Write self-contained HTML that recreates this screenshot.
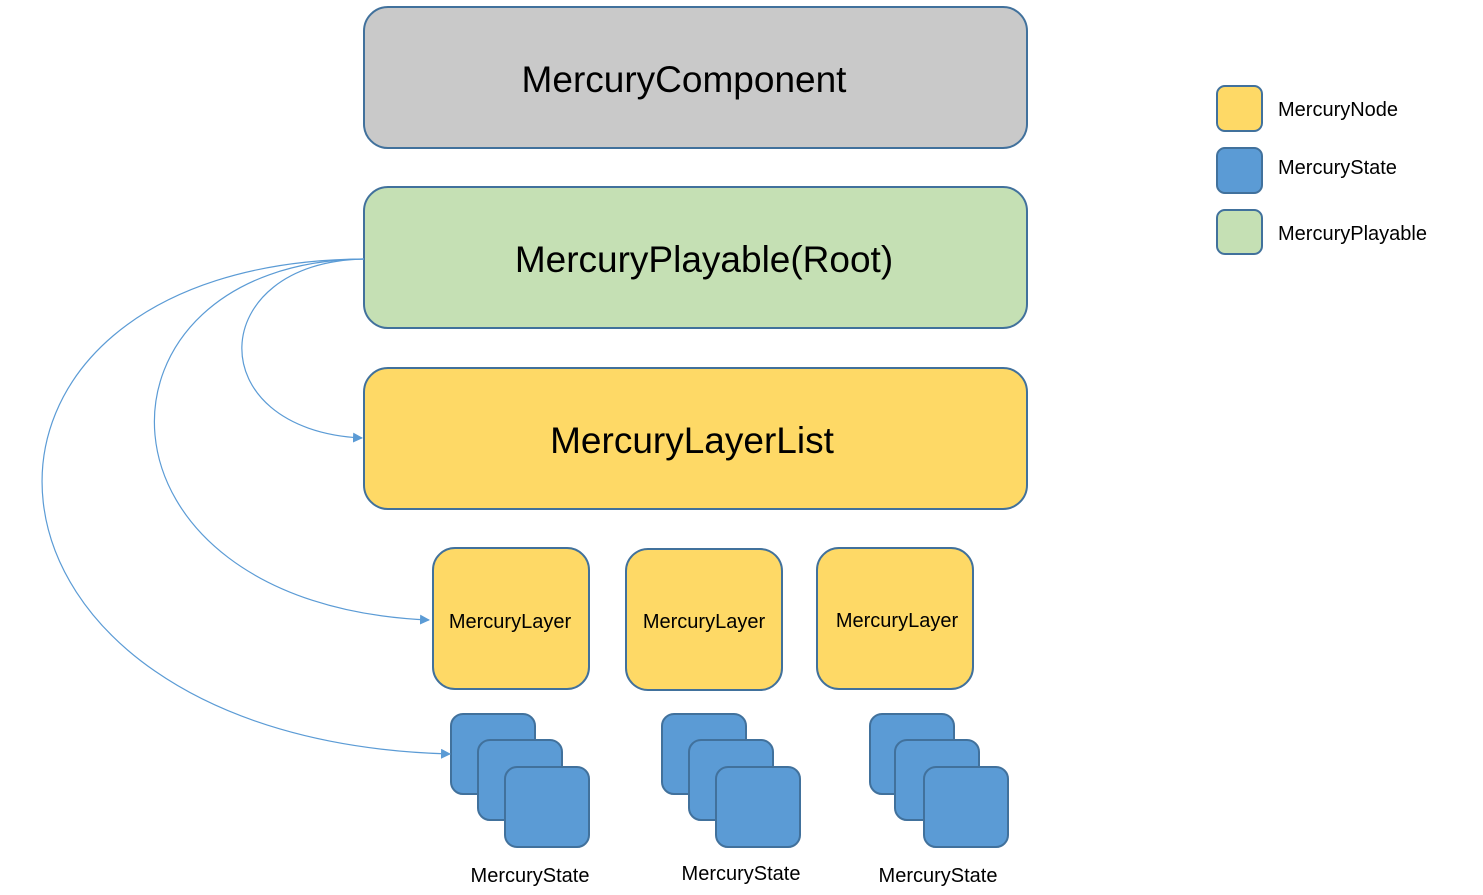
<!DOCTYPE html>
<html><head><meta charset="utf-8"><style>
html,body{margin:0;padding:0;background:#fff;}
svg{display:block;}
text{font-family:"Liberation Sans","Noto Sans CJK SC",sans-serif;fill:#000;}
</style></head><body>
<svg width="1483" height="895" viewBox="0 0 1483 895">
<defs>
<marker id="a" markerWidth="10" markerHeight="10" refX="9" refY="5" orient="auto" markerUnits="userSpaceOnUse">
<path d="M0,0 L10,5 L0,10 z" fill="#5b9bd5"/>
</marker>
</defs>
<g stroke="#41719c" stroke-width="2">
<rect x="364" y="7" width="663" height="141" rx="24" fill="#c9c9c9"/>
<rect x="364" y="187" width="663" height="141" rx="24" fill="#c5e0b4"/>
<rect x="364" y="368" width="663" height="141" rx="24" fill="#fed966"/>
<rect x="433" y="548" width="156" height="141" rx="22" fill="#fed966"/>
<rect x="626" y="549" width="156" height="141" rx="22" fill="#fed966"/>
<rect x="817" y="548" width="156" height="141" rx="22" fill="#fed966"/>
<g fill="#5b9bd5">
<rect x="451" y="714" width="84" height="80" rx="12"/>
<rect x="478" y="740" width="84" height="80" rx="12"/>
<rect x="505" y="767" width="84" height="80" rx="12"/>
<rect x="662" y="714" width="84" height="80" rx="12"/>
<rect x="689" y="740" width="84" height="80" rx="12"/>
<rect x="716" y="767" width="84" height="80" rx="12"/>
<rect x="870" y="714" width="84" height="80" rx="12"/>
<rect x="895" y="740" width="84" height="80" rx="12"/>
<rect x="924" y="767" width="84" height="80" rx="12"/>
</g>
<rect x="1217" y="86" width="45" height="45" rx="8" fill="#fed966"/>
<rect x="1217" y="148" width="45" height="45" rx="8" fill="#5b9bd5"/>
<rect x="1217" y="210" width="45" height="44" rx="8" fill="#c5e0b4"/>
</g>
<g fill="none" stroke="#5b9bd5" stroke-width="1.2">
<path d="M364,259 C205,262 198,430 362,438" marker-end="url(#a)"/>
<path d="M364,259 C75,262 74,605 429,620" marker-end="url(#a)"/>
<path d="M364,259 C-90,262 -66,740 450,754" marker-end="url(#a)"/>
</g>
<g text-anchor="middle">
<text x="684" y="92" font-size="37">MercuryComponent</text>
<text x="704" y="272" font-size="37">MercuryPlayable(Root)</text>
<text x="692" y="453" font-size="37">MercuryLayerList</text>
<text x="510" y="628" font-size="20">MercuryLayer</text>
<text x="704" y="628" font-size="20">MercuryLayer</text>
<text x="897" y="627" font-size="20">MercuryLayer</text>
<text x="530" y="882" font-size="20">MercuryState</text>
<text x="741" y="880" font-size="20">MercuryState</text>
<text x="938" y="882" font-size="20">MercuryState</text>
</g>
<text x="1278" y="116" font-size="20">MercuryNode</text>
<text x="1278" y="174" font-size="20">MercuryState</text>
<text x="1278" y="240" font-size="20">MercuryPlayable</text>
</svg>
</body></html>
